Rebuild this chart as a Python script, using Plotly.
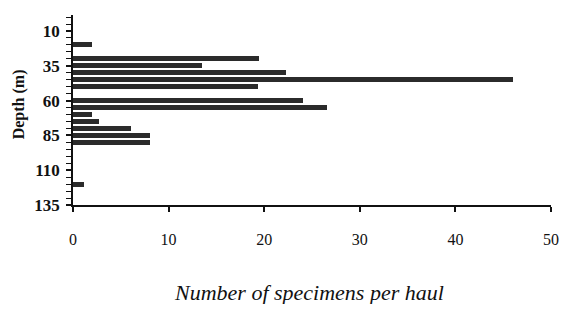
import plotly.graph_objects as go

# Data
depth_m = [20, 30, 35, 40, 45, 50, 60, 65, 70, 75, 80, 85, 90, 120]
specimens_per_haul = [2.0, 19.5, 13.5, 22.3, 46.0, 19.4, 24.1, 26.6, 2.0, 2.7, 6.1, 8.1, 8.1, 1.1]
depth_tick_labels = [10, 35, 60, 85, 110, 135]
count_tick_labels = [0, 10, 20, 30, 40, 50]

SERIF = "Liberation Serif, Times New Roman, serif"

fig = go.Figure()
fig.add_trace(go.Bar(
    x=specimens_per_haul,
    y=depth_m,
    orientation="h",
    width=3.5,
    marker=dict(color="#2b2b2b", line=dict(width=0)),
))

# page has an 8px body margin, so the figure is drawn 8px right/down
fig.update_layout(
    width=560,
    height=296,
    margin=dict(l=65, r=17, t=7, b=99, autoexpand=False),
    paper_bgcolor="white",
    plot_bgcolor="white",
    showlegend=False,
    bargap=0,
    font=dict(family=SERIF, color="#111111"),
)

fig.update_xaxes(
    range=[0, 50],
    tickvals=count_tick_labels,
    ticktext=[str(v) for v in count_tick_labels],
    ticks="outside",
    ticklen=5,
    tickwidth=1.5,
    tickcolor="#111111",
    showline=True,
    linecolor="#111111",
    linewidth=1.5,
    showgrid=False,
    zeroline=False,
    tickfont=dict(family=SERIF, size=16, color="#111111"),
    ticklabelstandoff=14,
    ticklabeloverflow="allow",
    automargin=False,
)

fig.update_yaxes(
    range=[135, -1.5],
    tickvals=depth_tick_labels,
    ticktext=[str(v) for v in depth_tick_labels],
    ticks="outside",
    ticklen=5,
    tickwidth=1.5,
    tickcolor="#111111",
    minor=dict(dtick=5, tick0=0, ticks="outside", ticklen=5, tickwidth=1.2, tickcolor="#111111"),
    showline=True,
    linecolor="#111111",
    linewidth=1.5,
    showgrid=False,
    zeroline=False,
    tickfont=dict(family=SERIF, size=17, color="#111111", weight="bold"),
    ticklabelstandoff=3,
    automargin=False,
)

# Axis titles
fig.add_annotation(
    text="Number of specimens per haul",
    xref="paper", yref="paper",
    x=0.494, y=-0.463,
    xanchor="center", yanchor="middle",
    showarrow=False,
    font=dict(family=SERIF, size=22, color="#111111", style="italic"),
)
fig.add_annotation(
    text="Depth (m)",
    xref="paper", yref="paper",
    x=-65 / 478, y=0.53,
    xanchor="left", yanchor="middle",
    textangle=-90,
    showarrow=False,
    font=dict(family=SERIF, size=16, color="#111111", weight="bold"),
)

fig.write_html("out.html")
